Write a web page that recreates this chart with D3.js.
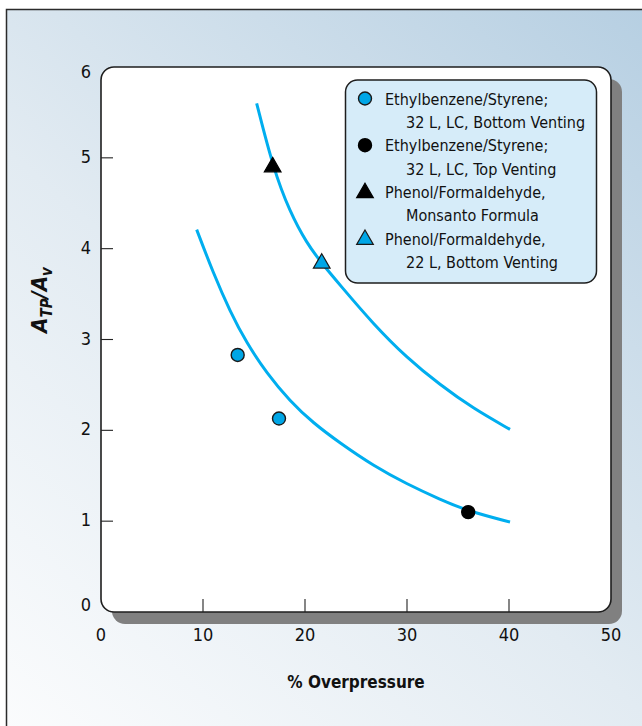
<!DOCTYPE html>
<html>
<head>
<meta charset="utf-8">
<script src="https://cdn.jsdelivr.net/npm/d3@7"></script>
<style>
  html, body { margin: 0; padding: 0; background: #ffffff; }
  svg { display: block; }
  text { font-family: "DejaVu Sans Condensed", "Liberation Sans Narrow", sans-serif; font-stretch: condensed; fill: #111; }
</style>
</head>
<body>
<svg id="chart" width="642" height="726"></svg>
<script>
// ---- Data ----
const xTicks = [0, 10, 20, 30, 40, 50];
const yTicks = [0, 1, 2, 3, 4, 5, 6];

// upper fitted curve
const upperCurveX = [15.26, 16.89, 18.53, 20.17, 21.64, 23.43, 26.70, 29.97, 33.24, 36.50, 40.10];
const upperCurveY = [5.60, 4.88, 4.40, 4.06, 3.84, 3.60, 3.17, 2.80, 2.50, 2.24, 2.01];

// lower fitted curve
const lowerCurveX = [9.38, 11.01, 12.65, 14.28, 16.25, 18.53, 20.81, 23.43, 26.70, 29.97, 33.24, 36.01, 40.10];
const lowerCurveY = [4.21, 3.73, 3.31, 2.96, 2.63, 2.32, 2.08, 1.86, 1.61, 1.41, 1.24, 1.11, 0.99];

// measured points per series
const seriesNames = [
  ["Ethylbenzene/Styrene;", "32 L, LC, Bottom Venting"],
  ["Ethylbenzene/Styrene;", "32 L, LC, Top Venting"],
  ["Phenol/Formaldehyde,", "Monsanto Formula"],
  ["Phenol/Formaldehyde,", "22 L, Bottom Venting"]
];
const seriesShapes = ["circle", "circle", "triangle", "triangle"];
const seriesFills = ["#00a6e6", "#000000", "#000000", "#00a6e6"];
const ebBottomX = [13.4, 17.45];
const ebBottomY = [2.83, 2.13];
const ebTopX = [36.0];
const ebTopY = [1.10];
const pfMonsantoX = [16.83];
const pfMonsantoY = [4.91];
const pf22X = [21.64];
const pf22Y = [3.85];

const seriesX = [ebBottomX, ebTopX, pfMonsantoX, pf22X];
const seriesY = [ebBottomY, ebTopY, pfMonsantoY, pf22Y];

// ---- Drawing ----
const svg = d3.select("#chart");
const W = 642, H = 726;

const defs = svg.append("defs");
const grad = defs.append("linearGradient")
  .attr("id", "bg").attr("gradientUnits", "userSpaceOnUse")
  .attr("x1", 0).attr("y1", H).attr("x2", W).attr("y2", 0);
grad.append("stop").attr("offset", "0%").attr("stop-color", "#fbfcfd");
grad.append("stop").attr("offset", "45%").attr("stop-color", "#e2ebf2");
grad.append("stop").attr("offset", "100%").attr("stop-color", "#b6cfe2");

// outer frame (runs off the right and bottom edges)
svg.append("rect")
  .attr("x", 6.5).attr("y", 9.5)
  .attr("width", W + 20).attr("height", H + 20)
  .attr("fill", "url(#bg)")
  .attr("stroke", "#2b2b2b").attr("stroke-width", 1.5);

const x = d3.scaleLinear().domain([0, 50]).range([101, 611]);
const y = d3.scaleLinear().domain([0, 6]).range([612, 67]);

const px0 = x(0), px1 = x(50), py0 = y(6), py1 = y(0);

// shadow
svg.append("rect")
  .attr("x", px0 + 11).attr("y", py0 + 12)
  .attr("width", px1 - px0).attr("height", py1 - py0)
  .attr("rx", 13).attr("fill", "#808080");

// plot panel
svg.append("rect")
  .attr("x", px0).attr("y", py0)
  .attr("width", px1 - px0).attr("height", py1 - py0)
  .attr("rx", 13).attr("fill", "#ffffff")
  .attr("stroke", "#1e1e1e").attr("stroke-width", 1.6);

// x ticks (inward) and labels
const xAxis = svg.append("g");
xAxis.selectAll("line").data(xTicks.filter(d => d > 0 && d < 50)).enter().append("line")
  .attr("x1", d => x(d)).attr("x2", d => x(d))
  .attr("y1", py1).attr("y2", py1 - 13)
  .attr("stroke", "#222").attr("stroke-width", 1.1);
xAxis.selectAll("text").data(xTicks).enter().append("text")
  .attr("x", d => x(d)).attr("y", 641)
  .attr("text-anchor", "middle")
  .style("font-size", "18px")
  .text(d => d);

// y ticks (inward) and labels
const yAxis = svg.append("g");
yAxis.selectAll("line").data(yTicks.filter(d => d > 0 && d < 6)).enter().append("line")
  .attr("x1", px0).attr("x2", px0 + 12)
  .attr("y1", d => y(d)).attr("y2", d => y(d))
  .attr("stroke", "#222").attr("stroke-width", 1.1);
yAxis.selectAll("text").data(yTicks).enter().append("text")
  .attr("x", 86)
  .attr("y", d => d === 6 ? y(d) + 11 : (d === 0 ? y(d) - 1 : y(d) + 5))
  .attr("text-anchor", "middle")
  .style("font-size", "18px")
  .text(d => d);

// axis titles
svg.append("text")
  .attr("x", 356).attr("y", 688)
  .attr("text-anchor", "middle")
  .style("font-size", "17px").style("font-weight", "bold")
  .text("% Overpressure");

const yt = svg.append("text")
  .attr("transform", "translate(47,300) rotate(-90)")
  .attr("text-anchor", "middle")
  .style("font-size", "22px").style("font-weight", "bold").style("font-style", "italic");
yt.append("tspan").text("A");
yt.append("tspan").attr("dy", 5).style("font-size", "15px").text("TP");
yt.append("tspan").attr("dy", -5).text("/A");
yt.append("tspan").attr("dy", 5).style("font-size", "15px").text("v");

// curves
const line = d3.line().x(d => x(d[0])).y(d => y(d[1])).curve(d3.curveBasis);
const upper = upperCurveX.map((v, i) => [v, upperCurveY[i]]);
const lower = lowerCurveX.map((v, i) => [v, lowerCurveY[i]]);
[upper, lower].forEach(pts => {
  svg.append("path").attr("d", line(pts))
    .attr("fill", "none").attr("stroke", "#00aeef").attr("stroke-width", 3);
});

// markers
const tri = d3.symbol().type(d3.symbolTriangle).size(120);
function drawMarker(g, shape, fill, cx, cy) {
  const stroke = fill === "#000000" ? "#000" : "#1a1a1a";
  if (shape === "circle") {
    g.append("circle").attr("cx", cx).attr("cy", cy).attr("r", 6.5)
      .attr("fill", fill).attr("stroke", stroke).attr("stroke-width", 1.4);
  } else {
    g.append("path").attr("d", tri())
      .attr("transform", `translate(${cx},${cy + 1})`)
      .attr("fill", fill).attr("stroke", stroke).attr("stroke-width", 1.2);
  }
}
const pointsG = svg.append("g");
seriesX.forEach((xs, s) => {
  xs.forEach((xv, i) => {
    drawMarker(pointsG, seriesShapes[s], seriesFills[s], x(xv), y(seriesY[s][i]));
  });
});

// legend
const lg = svg.append("g");
lg.append("rect")
  .attr("x", 345.5).attr("y", 80)
  .attr("width", 251).attr("height", 203)
  .attr("rx", 12).attr("fill", "#d6ecf9")
  .attr("stroke", "#1e1e1e").attr("stroke-width", 1.5);
const rowStart = 98.5, rowGap = 23.35;
seriesNames.forEach((lines, s) => {
  const cy1 = rowStart + rowGap * 2 * s;
  drawMarker(lg, seriesShapes[s], seriesFills[s], 365, cy1);
  lg.append("text").attr("x", 385).attr("y", cy1 + 6)
    .style("font-size", "16px").text(lines[0]);
  lg.append("text").attr("x", 406).attr("y", cy1 + rowGap + 6)
    .style("font-size", "16px").text(lines[1]);
});
</script>
</body>
</html>
